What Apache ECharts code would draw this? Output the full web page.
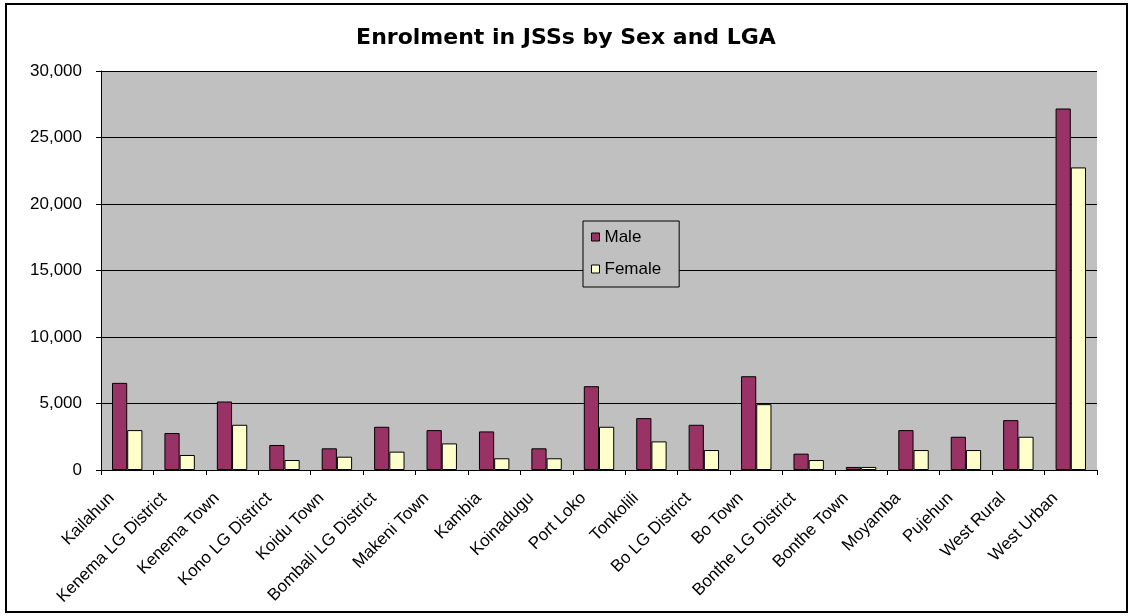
<!DOCTYPE html>
<html><head><meta charset="utf-8">
<script src="https://cdn.jsdelivr.net/npm/echarts@6/dist/echarts.min.js"></script>
<style>html,body{margin:0;padding:0;background:#fff}#frame{position:absolute;left:5px;top:3px;width:1119px;height:606px;border:2px solid #000}#c{position:absolute;left:0;top:0;width:1132px;height:616px}</style>
</head><body><div id="frame"></div><div id="c"></div>
<script>
const categories = ["Kailahun","Kenema LG District","Kenema Town","Kono LG District","Koidu Town","Bombali LG District","Makeni Town","Kambia","Koinadugu","Port Loko","Tonkolili","Bo LG District","Bo Town","Bonthe LG District","Bonthe Town","Moyamba","Pujehun","West Rural","West Urban"];
const male = [6550,2780,5150,1880,1630,3250,3000,2900,1630,6300,3900,3400,7050,1230,230,3000,2500,3750,27180];
const female = [3000,1130,3400,750,1000,1380,2000,880,880,3250,2150,1500,4950,750,230,1500,1500,2500,22750];
const yTicks = [0,5000,10000,15000,20000,25000,30000];

const chart = echarts.init(document.getElementById('c'), null, {renderer:'canvas'});
const font = 'Liberation Sans, Arial, sans-serif';
chart.setOption({
  animation:false,
  backgroundColor:'transparent',
  title:{text:'Enrolment in JSSs by Sex and LGA',left:'center',top:22,textStyle:{fontFamily:'DejaVu Sans',fontSize:22,fontWeight:'bold',color:'#000'}},
  legend:{orient:'vertical',left:583,top:221,itemWidth:8,itemHeight:8,itemGap:12,padding:[6,18,8,8],
    backgroundColor:'#C0C0C0',borderColor:'#000',borderWidth:1,borderRadius:0,
    textStyle:{fontFamily:font,fontSize:17,lineHeight:20,color:'#000'},
    itemStyle:{borderColor:'#000',borderWidth:1},
    data:[{name:'Male',icon:'rect'},{name:'Female',icon:'rect'}]},
  grid:{left:101,right:35,top:71,bottom:146,show:true,backgroundColor:'#C0C0C0',borderWidth:0},
  xAxis:{type:'category',data:categories,
    axisLine:{lineStyle:{color:'#000',width:1}},
    axisTick:{show:true,alignWithLabel:false,length:5,lineStyle:{color:'#000'}},
    axisLabel:{rotate:45,interval:0,fontFamily:font,fontSize:17,color:'#000',margin:10,padding:[0,22,0,0]}},
  yAxis:{type:'value',min:0,max:30000,interval:5000,
    axisLine:{show:true,lineStyle:{color:'#000'}},
    axisTick:{show:true,inside:false,length:5,lineStyle:{color:'#000'}},
    splitLine:{lineStyle:{color:'#000',width:1}},
    axisLabel:{fontFamily:font,fontSize:17,color:'#000',margin:19,
      formatter:v=>yTicks.includes(v)?v.toLocaleString('en-US'):''}},
  series:[
    {name:'Male',type:'bar',data:male,barGap:'0%',barCategoryGap:'42%',
      itemStyle:{color:'#993366',borderColor:'#000',borderWidth:1}},
    {name:'Female',type:'bar',data:female,
      itemStyle:{color:'#FFFFCC',borderColor:'#000',borderWidth:1}}
  ]
});
</script></body></html>
